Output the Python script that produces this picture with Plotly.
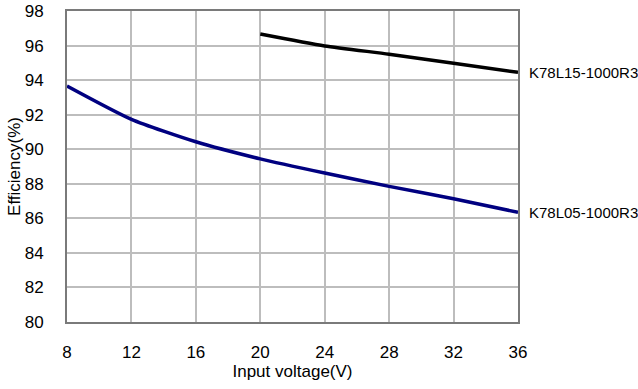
import plotly.graph_objects as go

v_k05 = [8, 12, 16, 20, 24, 28, 32, 36]
eff_k05 = [93.66, 91.73, 90.43, 89.44, 88.62, 87.85, 87.13, 86.35]
v_k15 = [20, 24, 28, 32, 36]
eff_k15 = [96.67, 95.98, 95.5, 94.97, 94.45]
label_k05 = "K78L05-1000R3"
label_k15 = "K78L15-1000R3"
x_ticks = [8, 12, 16, 20, 24, 28, 32, 36]
y_ticks = [80, 82, 84, 86, 88, 90, 92, 94, 96, 98]

FONT = "Liberation Sans"

fig = go.Figure()
fig.add_trace(go.Scatter(x=v_k05, y=eff_k05, mode="lines",
                         line=dict(color="#000080", width=3.5, shape="spline", smoothing=0.6),
                         showlegend=False, hoverinfo="skip"))
fig.add_trace(go.Scatter(x=v_k15, y=eff_k15, mode="lines",
                         line=dict(color="#000000", width=3.5, shape="spline", smoothing=0.6),
                         showlegend=False, hoverinfo="skip"))

fig.add_annotation(x=1, xref="paper", xshift=9, y=eff_k15[-1], yref="y", text=label_k15,
                   showarrow=False, xanchor="left", yanchor="middle",
                   font=dict(family=FONT, size=15, color="#000"))
fig.add_annotation(x=1, xref="paper", xshift=9, y=eff_k05[-1], yref="y", text=label_k05,
                   showarrow=False, xanchor="left", yanchor="middle",
                   font=dict(family=FONT, size=15, color="#000"))

fig.update_layout(
    width=638, height=389,
    margin=dict(l=67, r=120, t=11, b=67, autoexpand=False),
    plot_bgcolor="white", paper_bgcolor="white",
    font=dict(family=FONT, size=17, color="#000"),
    xaxis=dict(range=[8, 36], tickvals=x_ticks, showgrid=True, gridcolor="#bdbdbd", gridwidth=1.5,
               showline=True, linecolor="#7a7a7a", linewidth=2, mirror=True, zeroline=False,
               ticks="", ticklabelstandoff=14, automargin=False,
               title=dict(text="Input voltage(V)", font=dict(size=17), standoff=3)),
    yaxis=dict(range=[80, 98], tickvals=y_ticks, showgrid=True, gridcolor="#bdbdbd", gridwidth=1.5,
               showline=True, linecolor="#7a7a7a", linewidth=2, mirror=True, zeroline=False,
               ticks="", ticklabelstandoff=18, automargin=False,
               title=dict(text="Efficiency(%)", font=dict(size=17), standoff=0)),
)
fig.write_html("out.html", config={"displayModeBar": False},
               post_script="document.body.style.margin='0';")
